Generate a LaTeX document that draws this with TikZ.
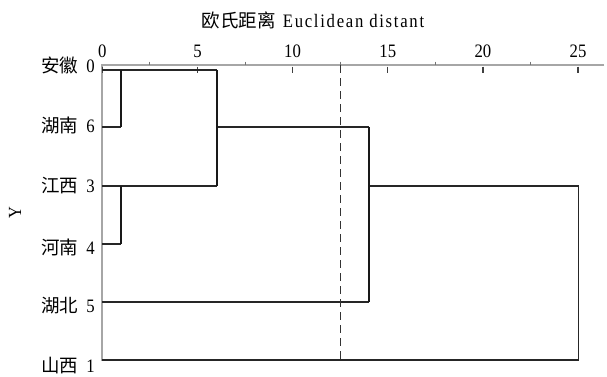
\documentclass[tikz,border=0pt]{standalone}
\usepackage{fontspec}
\setmainfont{Liberation Serif}
\newfontfamily\cjk{Noto Sans CJK SC}
\newfontfamily\numfont[FakeStretch=0.88]{Liberation Serif}
\newfontfamily\ttlfont[FakeStretch=0.88,LetterSpace=9]{Liberation Serif}
\begin{document}
\begin{tikzpicture}[x=1pt,y=-1pt,
  dendro/.style={draw=black!85, line width=1.7pt},
  dendrov/.style={draw=black!90, line width=2pt},
  axisline/.style={draw=black!35, line width=1.4pt},
  majortick/.style={draw=black!75, line width=1.3pt},
  minortick/.style={draw=black!55, line width=1pt},
  cutline/.style={draw=black!80, line width=1.1pt, dash pattern=on 8pt off 5pt},
  lbl/.style={font=\fontsize{18.5}{18.5}\selectfont, anchor=east, inner sep=0pt},
  ticklbl/.style={font=\fontsize{19}{19}\selectfont\numfont, inner sep=0pt},
  ttl/.style={font=\fontsize{18.5}{18.5}\selectfont, inner sep=0pt}]
\useasboundingbox[fill=white] (0,0) rectangle (607,376);

% title and axis label
\node[ttl] (title) at (313,20) {{\cjk 欧氏距离}\hspace{7pt}{\fontsize{19}{19}\selectfont\ttlfont Euclidean distant}};
\node[ttl, rotate=90] (ylab) at (15,213) {\numfont Y};

% axes
\coordinate (ax0) at (102,65);
\coordinate (ax1) at (604,65);
\coordinate (ay1) at (102,361);
\draw[axisline] (ax1) -- (ax0) -- (ay1);
\foreach \d in {0,5,10,15,20,25}{
  \draw[majortick] ({102.3+19.03*\d},66.5) -- ({102.3+19.03*\d},72.5);
  \node[ticklbl] (t\d) at ({102.3+19.03*\d},51) {\d};
}
\foreach \d in {2.5,7.5,12.5,17.5,22.5}{
  \draw[minortick] ({102.3+19.03*\d},61.5) -- ({102.3+19.03*\d},64.5);
}

% row labels
\newcommand{\rowlab}[2]{{\cjk #1}\hspace{8pt}{\fontsize{19}{19}\selectfont\numfont #2}}
\node[lbl] (n0) at (95,65)  {\rowlab{安徽}{0}};
\node[lbl] (n6) at (95,125) {\rowlab{湖南}{6}};
\node[lbl] (n3) at (95,186) {\rowlab{江西}{3}};
\node[lbl] (n4) at (95,247) {\rowlab{河南}{4}};
\node[lbl] (n5) at (95,306) {\rowlab{湖北}{5}};
\node[lbl] (n1) at (95,366) {\rowlab{山西}{1}};

% leaves
\coordinate (L0) at (102,70);
\coordinate (L6) at (102,127);
\coordinate (L3) at (102,186);
\coordinate (L4) at (102,244);
\coordinate (L5) at (102,302);
\coordinate (L1) at (102,360);

% joins
\coordinate (j1) at (121.3,70);
\coordinate (j1b) at (121.3,127);
\coordinate (j2) at (121.3,186);
\coordinate (j2b) at (121.3,244);
\coordinate (k1) at (217,70);
\coordinate (k2) at (217,186);
\coordinate (m1) at (217,127);
\coordinate (m2) at (368.7,127);
\coordinate (m3) at (368.7,302);
\coordinate (p1) at (368.7,186);
\coordinate (p2) at (578.5,186);
\coordinate (p3) at (578.5,360);

% horizontal segments
\draw[dendro] (L6) -- (j1b);
\draw[dendro] (L4) -- (j2b);
\draw[dendro] (L0) -- (k1);
\draw[dendro] (L3) -- (k2);
\draw[dendro] (m1) -- (m2);
\draw[dendro] (L5) -- (m3);
\draw[dendro] (p1) -- (p2);
\draw[dendro] (L1) -- (p3);
% vertical segments
\draw[dendrov] (j1) -- (j1b);
\draw[dendrov] (j2) -- (j2b);
\draw[dendrov] (k1) -- (k2);
\draw[dendrov] (m2) -- (m3);
\draw[dendro] (p2) -- (p3);

% cut line
\coordinate (c0) at (340.2,65);
\coordinate (c1) at (340.2,362);
\draw[cutline] (c0) -- (c1);
\end{tikzpicture}
\end{document}
